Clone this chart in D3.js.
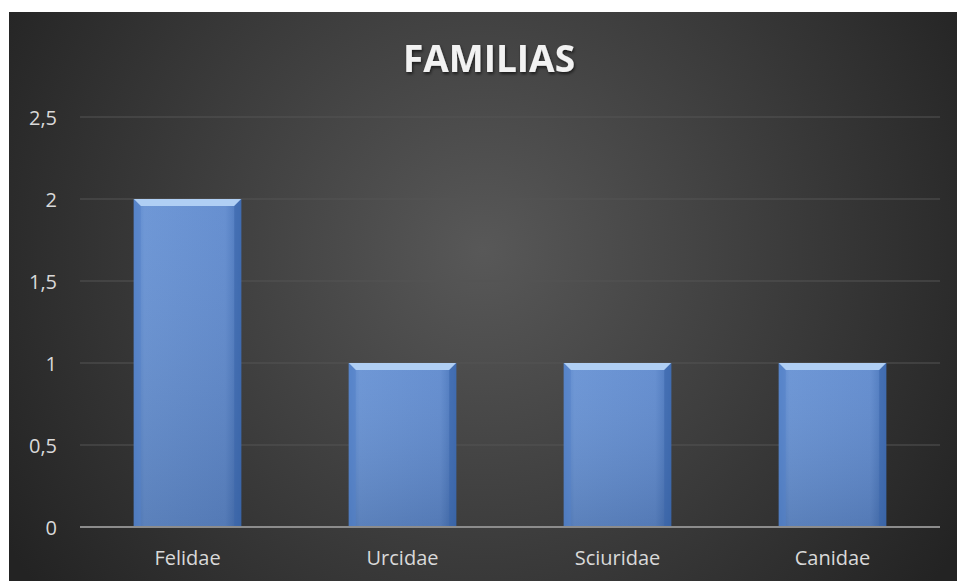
<!DOCTYPE html>
<html><head><meta charset="utf-8">
<script src="https://cdn.jsdelivr.net/npm/d3@7"></script>
<style>html,body{margin:0;padding:0;background:#fff;}svg{display:block;}</style>
</head><body>
<script>
const categories = ["Felidae", "Urcidae", "Sciuridae", "Canidae"];
const values = [2, 1, 1, 1];
const tickValues = [0, 0.5, 1, 1.5, 2, 2.5];
const tickLabels = ["0", "0,5", "1", "1,5", "2", "2,5"];
const title = "FAMILIAS";

const W = 957, H = 581;
const svg = d3.select("body").append("svg").attr("width", W).attr("height", H);
const defs = svg.append("defs");
const rg = defs.append("radialGradient").attr("id", "bg")
  .attr("gradientUnits", "userSpaceOnUse").attr("cx", 483).attr("cy", 250).attr("r", 560);
rg.append("stop").attr("offset", "0").attr("stop-color", "#585858");
rg.append("stop").attr("offset", "1").attr("stop-color", "#232323");
const bg = defs.append("linearGradient").attr("id", "bar").attr("x1", 0).attr("x2", 1).attr("y1", 0).attr("y2", 0);
bg.append("stop").attr("offset", "0").attr("stop-color", "#5080c8");
bg.append("stop").attr("offset", "0.1").attr("stop-color", "#6792d4");
bg.append("stop").attr("offset", "0.85").attr("stop-color", "#5f8ace");
bg.append("stop").attr("offset", "1").attr("stop-color", "#406eb6");
const bv = defs.append("linearGradient").attr("id", "barv").attr("x1", 0).attr("x2", 0).attr("y1", 0).attr("y2", 1);
bv.append("stop").attr("offset", "0").attr("stop-color", "#ffffff").attr("stop-opacity", 0.05);
bv.append("stop").attr("offset", "1").attr("stop-color", "#000000").attr("stop-opacity", 0.12);

svg.append("rect").attr("x", 9).attr("y", 12).attr("width", W - 9).attr("height", H - 12).attr("fill", "url(#bg)");

const x = d3.scaleBand().domain(categories).range([80, 940]).paddingInner(0.5).paddingOuter(0.25);
const y = d3.scaleLinear().domain([0, 2.5]).range([527, 117]);

// gridlines
svg.append("g").selectAll("line").data(tickValues.filter(d => d > 0)).join("line")
  .attr("x1", 80).attr("x2", 940).attr("y1", d => y(d)).attr("y2", d => y(d))
  .attr("stroke", "#555555").attr("stroke-width", 1);

// y axis labels
const yAxis = d3.axisLeft(y).tickValues(tickValues).tickFormat((d, i) => tickLabels[i]).tickSize(0).tickPadding(0);
const ya = svg.append("g").attr("transform", "translate(57,0)").call(yAxis);
ya.select(".domain").remove();
ya.selectAll("text").attr("fill", "#d9d9d9").style("font-family", "'Open Sans', sans-serif").style("font-size", "20px").attr("dy", "0.35em");

// bars
const bars = svg.append("g").selectAll("g").data(values).join("g");
bars.append("rect")
  .attr("x", (d, i) => x(categories[i])).attr("y", d => y(d))
  .attr("width", x.bandwidth()).attr("height", d => y(0) - y(d))
  .attr("fill", "url(#bar)");
bars.append("rect")
  .attr("x", (d, i) => x(categories[i])).attr("y", d => y(d))
  .attr("width", x.bandwidth()).attr("height", d => y(0) - y(d))
  .attr("fill", "url(#barv)");
// bevel top
bars.append("path")
  .attr("d", (d, i) => {
    const x0 = x(categories[i]), x1 = x0 + x.bandwidth(), t = y(d);
    return `M${x0},${t} L${x1},${t} L${x1 - 7},${t + 7} L${x0 + 7},${t + 7} Z`;
  })
  .attr("fill", "#b0cff4");
bars.append("path")
  .attr("d", (d, i) => {
    const x0 = x(categories[i]), t = y(d);
    return `M${x0},${t} L${x0 + 7},${t + 7} L${x0 + 7},${y(0)} L${x0},${y(0)} Z`;
  })
  .attr("fill", "#5582c8").attr("opacity", 0.6);
bars.append("path")
  .attr("d", (d, i) => {
    const x1 = x(categories[i]) + x.bandwidth(), t = y(d);
    return `M${x1},${t} L${x1 - 7},${t + 7} L${x1 - 7},${y(0)} L${x1},${y(0)} Z`;
  })
  .attr("fill", "#3b66aa").attr("opacity", 0.6);

// baseline
svg.append("line").attr("x1", 80).attr("x2", 940).attr("y1", y(0)).attr("y2", y(0))
  .attr("stroke", "#8c8c8c").attr("stroke-width", 2);

// x axis labels
const xAxis = d3.axisBottom(x).tickSize(0).tickPadding(0);
const xa = svg.append("g").attr("transform", `translate(0,${y(0) + 31})`).call(xAxis);
xa.select(".domain").remove();
xa.selectAll("text").attr("fill", "#d9d9d9").style("font-family", "'Open Sans', sans-serif").style("font-size", "20px").attr("dy", "0.35em");

// title
const f = defs.append("filter").attr("id", "sh").attr("x", "-10%").attr("y", "-30%").attr("width", "120%").attr("height", "160%");
f.append("feDropShadow").attr("dx", 1).attr("dy", 2).attr("stdDeviation", 1.5).attr("flood-color", "#000").attr("flood-opacity", 0.6);
svg.append("text").attr("x", 489).attr("y", 72).attr("text-anchor", "middle")
  .attr("fill", "#f2f2f2").attr("filter", "url(#sh)")
  .style("font-family", "'Open Sans', sans-serif").style("font-weight", "bold").style("font-size", "37px")
  .text(title);
</script>
</body></html>
